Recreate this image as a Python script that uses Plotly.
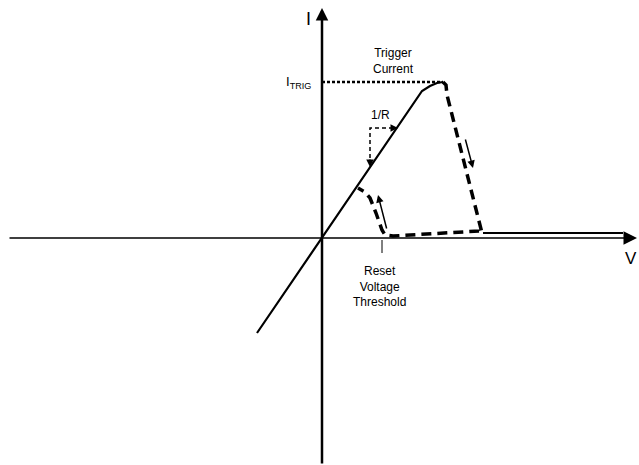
import plotly.graph_objects as go

# Curve points, V (x) / I (y) in chart units, origin at the axes crossing
ohmic_v = [-65, 100, 108, 115, 121]
ohmic_i = [-95, 147, 152, 155, 156]

i_trig = 156
trig_v = [0, 121]
trig_i = [i_trig, i_trig]

foldback_v = [121, 124, 125, 160, 157, 71, 63, 60, 54, 48, 43, 36]
foldback_i = [156, 153, 143, 5, 7, 2, 3, 8, 25, 40, 46, 50]

hold_v = [161, 301]
hold_i = [5, 5]

slope_v = [48, 48, 74]
slope_i = [73, 110, 110]

reset_v = 60

FONT = "Liberation Sans Narrow, Arial Narrow, Liberation Sans, sans-serif"

fig = go.Figure()

fig.add_trace(go.Scatter(x=ohmic_v, y=ohmic_i, mode="lines",
                         line=dict(color="black", width=2.2), hoverinfo="skip"))
fig.add_trace(go.Scatter(x=trig_v, y=trig_i, mode="lines",
                         line=dict(color="black", width=2.5, dash="3px,2px"), hoverinfo="skip"))
fig.add_trace(go.Scatter(x=foldback_v, y=foldback_i, mode="lines",
                         line=dict(color="black", width=3.5, dash="10px,6px"), hoverinfo="skip"))
fig.add_trace(go.Scatter(x=hold_v, y=hold_i, mode="lines",
                         line=dict(color="black", width=2), hoverinfo="skip"))
fig.add_trace(go.Scatter(x=slope_v, y=slope_i, mode="lines",
                         line=dict(color="black", width=1.5, dash="4px,3px"), hoverinfo="skip"))
fig.add_trace(go.Scatter(x=[reset_v, reset_v], y=[-2, -15], mode="lines",
                         line=dict(color="black", width=1), hoverinfo="skip"))


def arrow(x, y, ax, ay, width=1.5, size=1.0):
    fig.add_annotation(x=x, y=y, ax=ax, ay=ay, xref="x", yref="y", axref="x", ayref="y",
                       text="", showarrow=True, arrowhead=2, arrowsize=size,
                       arrowwidth=width, arrowcolor="black")


# axes
arrow(315, 0, -314, 0, width=1.5, size=1.8)
arrow(0, 230, 0, -227, width=2.5, size=1.0)

# direction arrows
arrow(151, 70, 143, 100)
arrow(56, 43, 65, 8)
arrow(48, 71, 48, 80)
arrow(76, 110, 68, 110)


def label(x, y, text, size=12, xanchor="center"):
    fig.add_annotation(x=x, y=y, xref="x", yref="y", text=text, showarrow=False,
                       xanchor=xanchor, yanchor="middle",
                       font=dict(family=FONT, size=size, color="black"))


label(-14, 219, "I", size=18)
label(317, -20, "V", size=17, xanchor="right")
label(71, 177, "Trigger<br>Current")
label(58, 123, "1/R")
label(57, -48, "Reset<br>Voltage<br>Threshold")
label(-9, 156, "I<sub>TRIG</sub>", size=13, xanchor="right")

fig.update_layout(
    width=639, height=465,
    margin=dict(l=0, r=0, t=0, b=0),
    paper_bgcolor="white", plot_bgcolor="white",
    showlegend=False,
    xaxis=dict(range=[-322, 317], visible=False, fixedrange=True),
    yaxis=dict(range=[-227, 238], visible=False, fixedrange=True),
)

# drop the default page margin so the figure fills the window exactly
fig.write_html("out.html",
               config={"displayModeBar": False},
               post_script="document.body.style.margin='0';document.body.style.overflow='hidden';")
